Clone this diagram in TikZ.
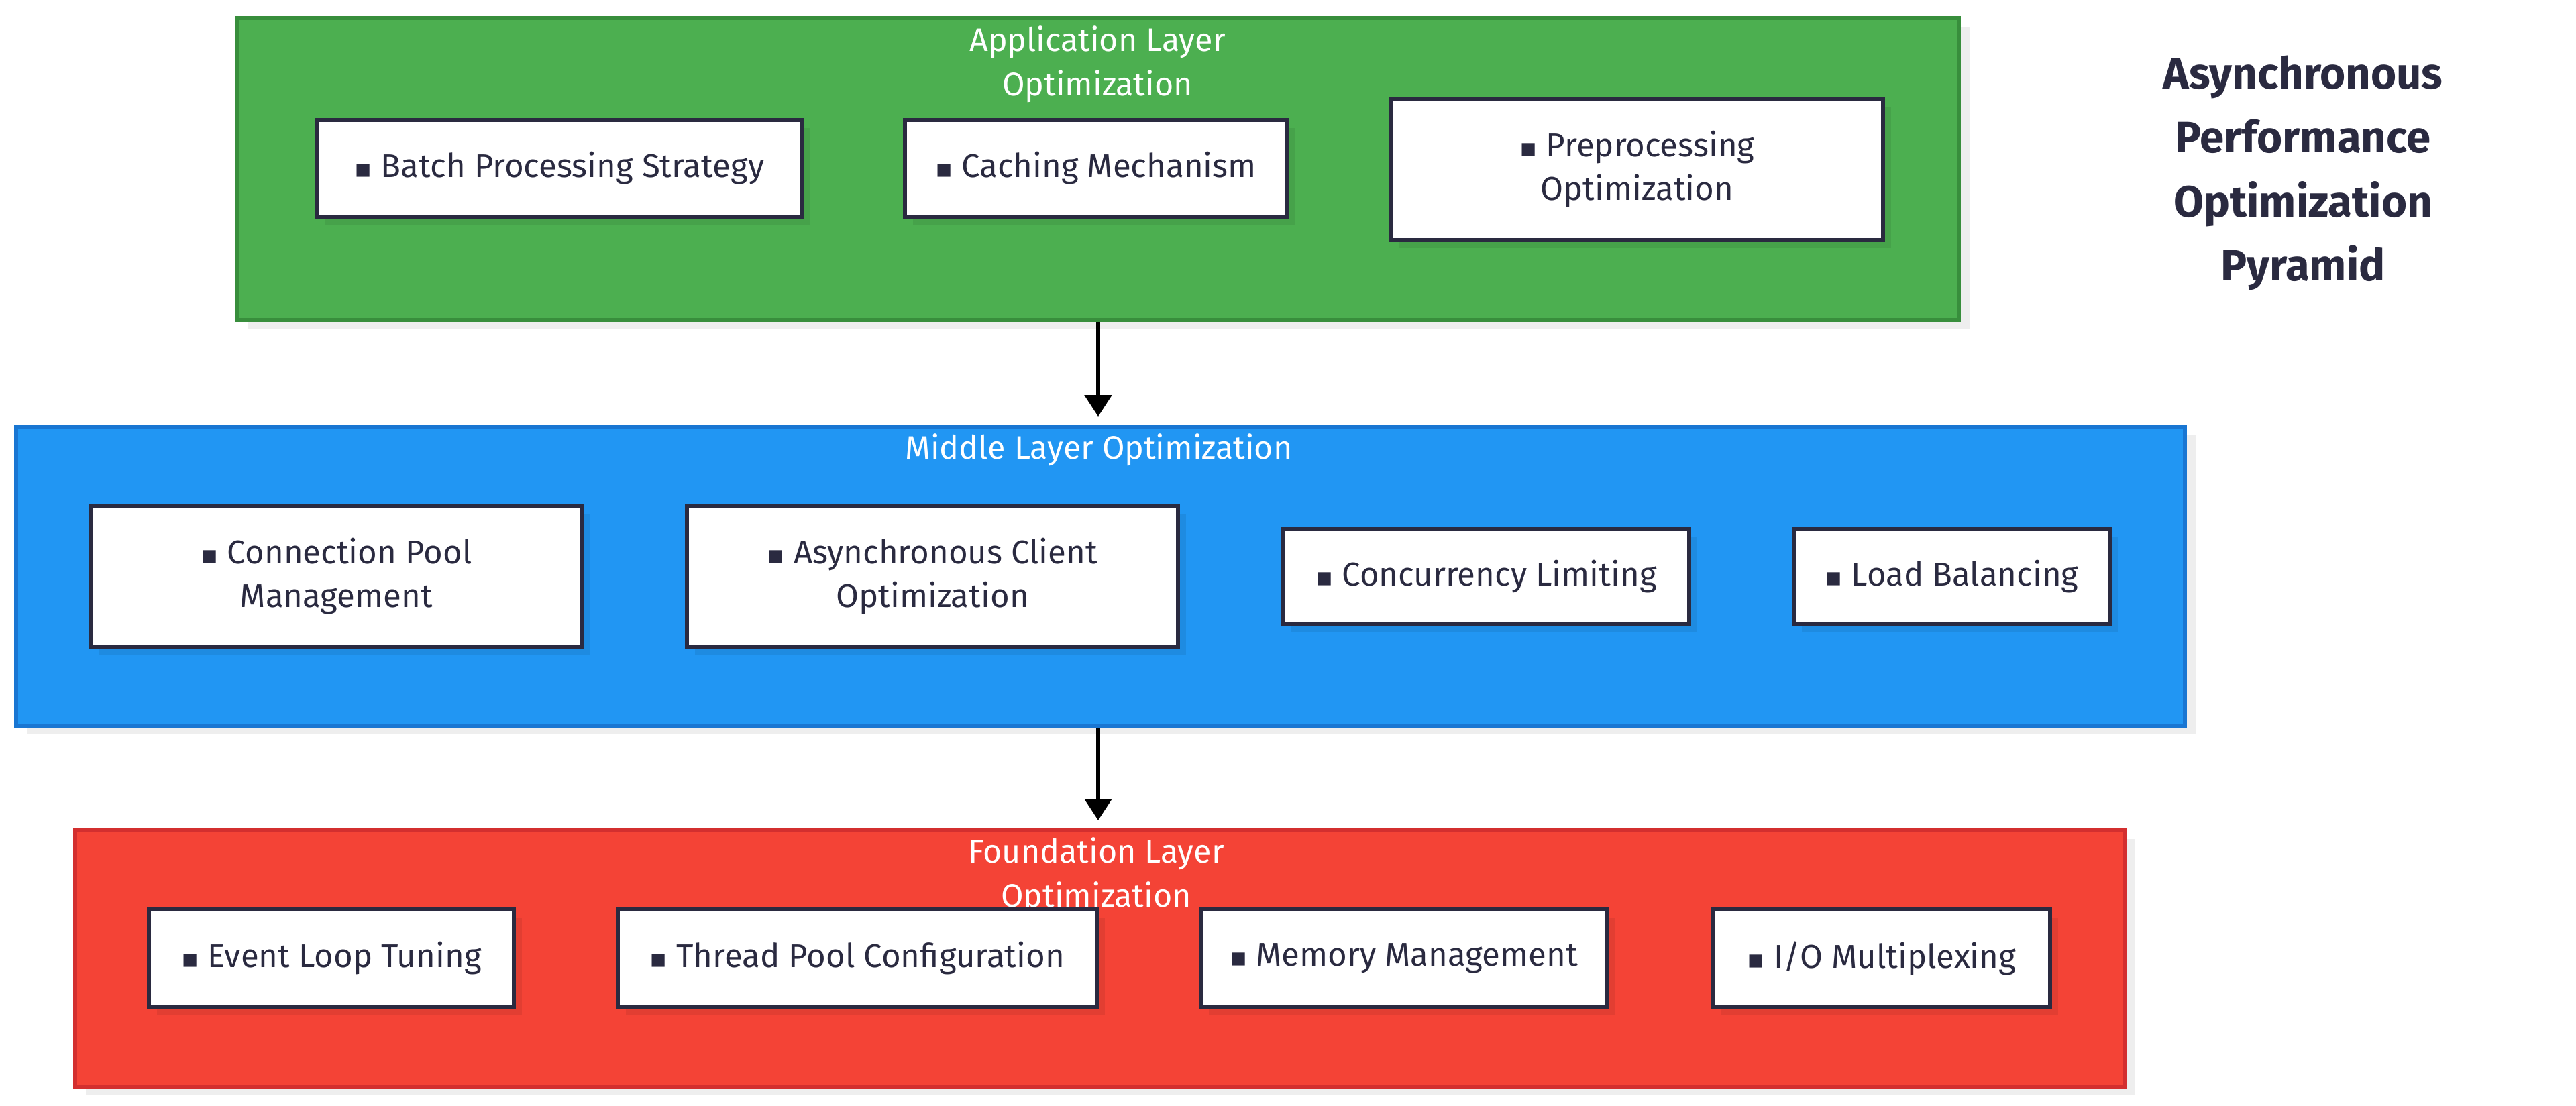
\documentclass[tikz,border=0pt]{standalone}
\usepackage{fontspec}
\setmainfont{Fira Sans}
\newfontfamily\symfont{DejaVu Sans}
\usetikzlibrary{positioning,arrows.meta,shadows}

\definecolor{ink}{HTML}{2A2A40}
\definecolor{applfill}{HTML}{4CAF50}
\definecolor{appldraw}{HTML}{388E3C}
\definecolor{midlfill}{HTML}{2196F3}
\definecolor{midldraw}{HTML}{1976D2}
\definecolor{fndlfill}{HTML}{F44336}
\definecolor{fndldraw}{HTML}{D32F2F}

\newcommand{\sqb}{{\symfont\fontsize{11}{11}\selectfont ▪}\ }

\tikzset{
  layer/.style={rectangle, line width=1.7pt, inner sep=0pt,
    drop shadow={shadow xshift=0.16cm, shadow yshift=-0.13cm, fill=black, opacity=0.065}},
  item/.style={rectangle, draw=ink, fill=white, line width=1.7pt, text=ink, align=center,
    inner sep=0pt, font=\fontsize{14}{18.5}\selectfont,
    drop shadow={shadow xshift=0.12cm, shadow yshift=-0.12cm, fill=black, opacity=0.07}},
  layertitle/.style={text=white, align=center, font=\fontsize{13.8}{18.7}\selectfont},
  flow/.style={-{Triangle[width=0.4cm,length=0.32cm]}, line width=1.7pt, shorten >=0.12cm},
}

\begin{document}
\begin{tikzpicture}[x=1cm, y=-1cm]
\useasboundingbox (0,0) rectangle (38.4,16.48);

% layers
\node[layer, fill=applfill, draw=appldraw, minimum width=25.66cm, minimum height=4.50cm] (appl) at (16.37,2.52) {};
\node[layer, fill=midlfill, draw=midldraw, minimum width=32.33cm, minimum height=4.46cm] (midl) at (16.405,8.59) {};
\node[layer, fill=fndlfill, draw=fndldraw, minimum width=30.55cm, minimum height=3.82cm] (fndl) at (16.395,14.29) {};

\node[layertitle] (applt) at (16.36,0.96) {Application Layer\\Optimization};
\node[layertitle] (midlt) at (16.38,6.71) {Middle Layer Optimization};
\node[layertitle] (fndlt) at (16.34,13.06) {Foundation Layer\\Optimization};

% application layer
\node[item, minimum width=7.22cm, minimum height=1.44cm] (batch) at (8.34,2.51) {\sqb Batch Processing Strategy};
\node[item, minimum width=5.69cm, minimum height=1.44cm] (cache) at (16.335,2.51) {\sqb Caching Mechanism};
\node[item, minimum width=7.33cm, minimum height=2.11cm] (prep) at (24.405,2.525) {\sqb Preprocessing\\Optimization};

% middle layer
\node[item, minimum width=7.33cm, minimum height=2.10cm] (conn) at (5.015,8.59) {\sqb Connection Pool\\Management};
\node[item, minimum width=7.32cm, minimum height=2.10cm] (aclient) at (13.9,8.59) {\sqb Asynchronous Client\\Optimization};
\node[item, minimum width=6.05cm, minimum height=1.42cm] (conc) at (22.155,8.60) {\sqb Concurrency Limiting};
\node[item, minimum width=4.71cm, minimum height=1.42cm] (lb) at (29.095,8.60) {\sqb Load Balancing};

% foundation layer
\node[item, minimum width=5.44cm, minimum height=1.45cm] (evloop) at (4.94,14.285) {\sqb Event Loop Tuning};
\node[item, minimum width=7.14cm, minimum height=1.45cm] (thread) at (12.78,14.285) {\sqb Thread Pool Configuration};
\node[item, minimum width=6.05cm, minimum height=1.45cm] (mem) at (20.925,14.285) {\sqb Memory Management};
\node[item, minimum width=5.02cm, minimum height=1.45cm] (io) at (28.05,14.285) {\sqb I/O Multiplexing};

% title
\node[text=ink, align=center, font=\bfseries\fontsize{18.6}{27.2}\selectfont] (title) at (34.33,2.58)
  {Asynchronous\\Performance\\Optimization\\Pyramid};

\draw[flow] (appl.south) -- (appl.south |- midl.north);
\draw[flow] (appl.south |- midl.south) -- (appl.south |- fndl.north);
\end{tikzpicture}
\end{document}
